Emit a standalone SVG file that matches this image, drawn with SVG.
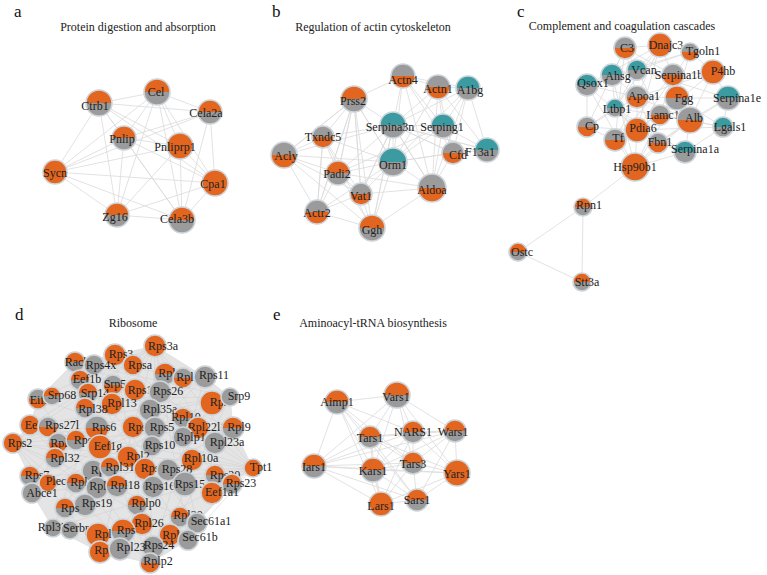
<svg xmlns="http://www.w3.org/2000/svg" width="767" height="575" viewBox="0 0 767 575">
<style>
.e{fill:none;stroke:#dadada;stroke-width:0.8}
.ed{fill:none;stroke:#cecece;stroke-width:0.5}
text{font-family:"Liberation Serif","Times New Roman",serif;font-size:12px;fill:#222;text-anchor:middle}
.p{font-size:17px;text-anchor:start;fill:#111}
</style>
<defs>
<path id="hT" d="M-1 0A1 1 0 0 1 1 0Z"/>
<path id="hB" d="M-1 0A1 1 0 0 0 1 0Z"/>
<circle id="ring" r="1" fill="none" stroke="#cdd4da" stroke-width="1.6" vector-effect="non-scaling-stroke"/>
<g id="OO"><circle r="1" fill="#E2661F"/><use href="#ring"/></g>
<g id="GG"><circle r="1" fill="#9B9B9B"/><use href="#ring"/></g>
<g id="OG"><use href="#hT" fill="#E2661F"/><use href="#hB" fill="#9B9B9B"/><use href="#ring"/></g>
<g id="GO"><use href="#hT" fill="#9B9B9B"/><use href="#hB" fill="#E2661F"/><use href="#ring"/></g>
<g id="TG"><use href="#hT" fill="#3B9BA1"/><use href="#hB" fill="#9B9B9B"/><use href="#ring"/></g>
</defs>
<rect width="767" height="575" fill="#fff"/>
<g id="titles">
<text class="p" x="14" y="17">a</text>
<text x="138" y="31">Protein digestion and absorption</text>
<text class="p" x="272" y="17">b</text>
<text x="373" y="31">Regulation of actin cytoskeleton</text>
<text class="p" x="517" y="17">c</text>
<text x="622" y="30">Complement and coagulation cascades</text>
<text class="p" x="15" y="320">d</text>
<text x="133" y="327">Ribosome</text>
<text class="p" x="273" y="320">e</text>
<text x="373" y="327">Aminoacyl-tRNA biosynthesis</text>
</g>
<g id="connectors">
<path class="e" d="M99 103L157 92L210 112L215 183L182 220L117 215L55 172L99 103M99 103L210 112M99 103L124 138L180 146L99 103M99 103L215 183M99 103L117 215M99 103L182 220M157 92L124 138L55 172L157 92M157 92L180 146M157 92L215 183M157 92L182 220M157 92L117 215M210 112L124 138M210 112L55 172M210 112L182 220M124 138L117 215M124 138L215 183M124 138L182 220M180 146L55 172M180 146L117 215M180 146L215 183M180 146L182 220M55 172L215 183M55 172L182 220M117 215L215 183"/>
<path class="e" d="M403 76L438 87L468 88L487 150L453 153L443 126L438 87M403 76L468 88M403 76L393 125L443 126L468 88L393 162L438 87L432 188L403 76M403 76L453 153M403 76L354 99M403 76L443 126M403 76L393 162M438 87L393 125M438 87L487 150M438 87L453 153M468 88L453 153M468 88L432 188M468 88L393 125M354 99L393 125L323 137L354 99L284 155L354 99L338 173L354 99L361 194L354 99L393 162L354 99L317 212L354 99L372 228M393 125L393 162L323 137L338 173L393 125L432 188L393 125L361 194L393 125L372 228L393 125L453 153L393 125L487 150L393 125L284 155M443 126L393 162L453 153L432 188L443 126L487 150M443 126L338 173M323 137L284 155L338 173L361 194L323 137L317 212L323 137L372 228M453 153L393 162M284 155L317 212L338 173M284 155L393 162L338 173M284 155L361 194M284 155L372 228M393 162L432 188L372 228L393 162L361 194M393 162L317 212M338 173L372 228M338 173L432 188M432 188L361 194M361 194L372 228L317 212L361 194"/>
<path class="e" d="M625 48L660 45L690 52L713 72L728 98L723 127L685 152L635 167L615 140L587 127L587 85L612 75L625 48M625 48L637 97L637 130L635 167M660 45L673 75L677 98L690 120L685 152M587 85L637 70L690 52L677 98L660 115L615 140M612 75L637 97L677 98L723 127M587 127L615 108L637 70L660 45M713 72L690 120L658 143L635 167L660 115L673 75M728 98L677 98L637 130L587 85M625 48L673 75L713 72M612 75L615 108L637 130L658 143L685 152M587 127L637 97L690 120L728 98M615 140L637 97L660 45M635 167L690 120L723 127M587 85L635 167M612 75L635 167M625 48L615 140M637 70L660 115L723 127M690 52L637 130L587 127M660 45L615 108L658 143M713 72L637 97L587 85M728 98L637 70L612 75M673 75L615 140M677 98L635 167M625 48L587 127M685 152L615 108M723 127L637 130M690 52L612 75M713 72L660 115M660 45L637 130M658 143L728 98M625 48L637 70L673 75M587 85L660 45M615 108L690 120M637 97L658 143M635 167L583 207L518 252L582 282L583 207"/>
<polygon points="155,346 205,377 230,397 233,428 253,468 232,484 197,523 188,540 150,563 100,552 53,528 32,493 30,476 13,443 30,425 38,399 75,362 115,355" fill="#e4e4e4" stroke="#dadada" stroke-width="0.6"/>
<path class="ed" d="M13 443L155 346M13 443L205 377M13 443L230 397M13 443L233 428M13 443L253 468M13 443L232 484M13 443L197 523M13 443L188 540M13 443L150 563M13 443L100 552M253 468L155 346M253 468L115 355M253 468L75 362M253 468L38 399M253 468L30 425M253 468L30 476M253 468L32 493M253 468L53 528M253 468L100 552M253 468L150 563M253 468L188 540M155 346L38 399M155 346L30 425M155 346L30 476M155 346L32 493M155 346L53 528M155 346L100 552M155 346L150 563M155 346L188 540M155 346L197 523M155 346L232 484M150 563L115 355M150 563L75 362M150 563L38 399M150 563L30 425M150 563L205 377M150 563L230 397M150 563L233 428M230 397L75 362M230 397L38 399M230 397L30 425M230 397L30 476M230 397L32 493M230 397L53 528M230 397L100 552M75 362L205 377M75 362L233 428M75 362L232 484M75 362L197 523M75 362L188 540M32 493L115 355M32 493L205 377M32 493L233 428M53 528L115 355M53 528L205 377M53 528L233 428"/>
<path class="e" d="M337 402L397 395L455 431L457 473L417 500L381 504L314 466L337 402M337 402L370 437L413 432L455 431M337 402L373 470L413 463L457 473M337 402L413 432M337 402L413 463M337 402L417 500M337 402L381 504M397 395L370 437L314 466L373 470L381 504M397 395L413 432L413 463L417 500L373 470L413 432M397 395L373 470M397 395L413 463M397 395L457 473M397 395L314 466M370 437L373 470M370 437L413 463M370 437L455 431M370 437L417 500M370 437L457 473M370 437L381 504M413 432L457 473M413 432L314 466M413 432L381 504M455 431L413 463M455 431L373 470M455 431L314 466M455 431L417 500M314 466L413 463M314 466L457 473M314 466L417 500M373 470L457 473M413 463L381 504M457 473L381 504"/>
</g>
<g id="panel-a">
<g id="a-Cel"><use href="#OG" transform="translate(157 92) scale(13)"/><text x="156" y="96">Cel</text></g>
<g id="a-Ctrb1"><use href="#OG" transform="translate(99 103) scale(13)"/><text x="95" y="110">Ctrb1</text></g>
<g id="a-Cela2a"><use href="#OG" transform="translate(210 112) scale(12)"/><text x="206" y="117">Cela2a</text></g>
<g id="a-Pnlip"><use href="#OG" transform="translate(124 138) scale(12)"/><text x="122" y="143">Pnlip</text></g>
<g id="a-Pnliprp1"><use href="#OO" transform="translate(180 146) scale(13)"/><text x="175" y="151">Pnliprp1</text></g>
<g id="a-Sycn"><use href="#OO" transform="translate(55 172) scale(12)"/><text x="55" y="177">Sycn</text></g>
<g id="a-Cpa1"><use href="#OO" transform="translate(215 183) scale(13)"/><text x="213" y="188">Cpa1</text></g>
<g id="a-Zg16"><use href="#OG" transform="translate(117 215) scale(12)"/><text x="115" y="221">Zg16</text></g>
<g id="a-Cela3b"><use href="#OG" transform="translate(182 220) scale(13)"/><text x="177" y="223">Cela3b</text></g>
</g>
<g id="panel-b">
<g id="b-Actn4"><use href="#GO" transform="translate(403 76) scale(12)"/><text x="403" y="84">Actn4</text></g>
<g id="b-Actn1"><use href="#GO" transform="translate(438 87) scale(12)"/><text x="438" y="93">Actn1</text></g>
<g id="b-A1bg"><use href="#TG" transform="translate(468 88) scale(12)"/><text x="470" y="94">A1bg</text></g>
<g id="b-Prss2"><use href="#OG" transform="translate(354 99) scale(13)"/><text x="353" y="105">Prss2</text></g>
<g id="b-Serpina3n"><use href="#TG" transform="translate(393 125) scale(13)"/><text x="390" y="131">Serpina3n</text></g>
<g id="b-Serping1"><use href="#TG" transform="translate(443 126) scale(12)"/><text x="442" y="131">Serping1</text></g>
<g id="b-Txndc5"><use href="#GO" transform="translate(323 137) scale(11)"/><text x="323" y="141">Txndc5</text></g>
<g id="b-Cfd"><use href="#GO" transform="translate(453 153) scale(11)"/><text x="458" y="159">Cfd</text></g>
<g id="b-F13a1"><use href="#TG" transform="translate(487 150) scale(12)"/><text x="480" y="156">F13a1</text></g>
<g id="b-Acly"><use href="#GO" transform="translate(284 155) scale(13)"/><text x="286" y="160">Acly</text></g>
<g id="b-Orm1"><use href="#TG" transform="translate(393 162) scale(14)"/><text x="393" y="169">Orm1</text></g>
<g id="b-Padi2"><use href="#OG" transform="translate(338 173) scale(12)"/><text x="337" y="178">Padi2</text></g>
<g id="b-Aldoa"><use href="#GO" transform="translate(432 188) scale(14)"/><text x="432" y="194">Aldoa</text></g>
<g id="b-Vat1"><use href="#GO" transform="translate(361 194) scale(11)"/><text x="361" y="200">Vat1</text></g>
<g id="b-Actr2"><use href="#GO" transform="translate(317 212) scale(12)"/><text x="317" y="217">Actr2</text></g>
<g id="b-Ggh"><use href="#OG" transform="translate(372 228) scale(13)"/><text x="372" y="234">Ggh</text></g>
</g>
<g id="panel-c">
<g id="c-C3"><use href="#GO" transform="translate(625 48) scale(11)"/><text x="627" y="52">C3</text></g>
<g id="c-Dnajc3"><use href="#OO" transform="translate(660 45) scale(12)"/><text x="666" y="49">Dnajc3</text></g>
<g id="c-Tgoln1"><use href="#GO" transform="translate(690 52) scale(9)"/><text x="703" y="55">Tgoln1</text></g>
<g id="c-Vcan"><use href="#TG" transform="translate(637 70) scale(10)"/><text x="644" y="74">Vcan</text></g>
<g id="c-Ahsg"><use href="#TG" transform="translate(612 75) scale(11)"/><text x="618" y="80">Ahsg</text></g>
<g id="c-Serpina1b"><use href="#GO" transform="translate(673 75) scale(11)"/><text x="679" y="79">Serpina1b</text></g>
<g id="c-P4hb"><use href="#OO" transform="translate(713 72) scale(12)"/><text x="723" y="75">P4hb</text></g>
<g id="c-Qsox1"><use href="#TG" transform="translate(587 85) scale(11)"/><text x="593" y="87">Qsox1</text></g>
<g id="c-Apoa1"><use href="#GO" transform="translate(637 97) scale(11)"/><text x="644" y="100">Apoa1</text></g>
<g id="c-Fgg"><use href="#OG" transform="translate(677 98) scale(12)"/><text x="684" y="102">Fgg</text></g>
<g id="c-Serpina1e"><use href="#TG" transform="translate(728 98) scale(12)"/><text x="737" y="102">Serpina1e</text></g>
<g id="c-Ltbp1"><use href="#TG" transform="translate(615 108) scale(9)"/><text x="617" y="113">Ltbp1</text></g>
<g id="c-Lamc1"><use href="#GO" transform="translate(660 115) scale(10)"/><text x="663" y="119">Lamc1</text></g>
<g id="c-Alb"><use href="#GO" transform="translate(690 120) scale(13)"/><text x="694" y="122">Alb</text></g>
<g id="c-Lgals1"><use href="#TG" transform="translate(723 127) scale(10)"/><text x="730" y="131">Lgals1</text></g>
<g id="c-Cp"><use href="#GO" transform="translate(587 127) scale(10)"/><text x="592" y="130">Cp</text></g>
<g id="c-Pdia6"><use href="#OO" transform="translate(637 130) scale(12)"/><text x="643" y="132">Pdia6</text></g>
<g id="c-Tf"><use href="#GO" transform="translate(615 140) scale(11)"/><text x="618" y="142">Tf</text></g>
<g id="c-Fbn1"><use href="#GO" transform="translate(658 143) scale(10)"/><text x="660" y="146">Fbn1</text></g>
<g id="c-Serpina1a"><use href="#TG" transform="translate(685 152) scale(11)"/><text x="695" y="153">Serpina1a</text></g>
<g id="c-Hsp90b1"><use href="#OO" transform="translate(635 167) scale(14)"/><text x="635" y="171">Hsp90b1</text></g>
<g id="c-Rpn1"><use href="#OG" transform="translate(583 207) scale(9)"/><text x="589" y="209">Rpn1</text></g>
<g id="c-Ostc"><use href="#OG" transform="translate(518 252) scale(9)"/><text x="522" y="256">Ostc</text></g>
<g id="c-Stt3a"><use href="#OG" transform="translate(582 282) scale(9)"/><text x="587" y="286">Stt3a</text></g>
</g>
<g id="panel-d">
<g id="d-Rps3a"><use href="#OO" transform="translate(155 346) scale(11)"/><text x="163" y="350">Rps3a</text></g>
<g id="d-Rps3"><use href="#OO" transform="translate(115 355) scale(11)"/><text x="121" y="358">Rps3</text></g>
<g id="d-Rack1"><use href="#OG" transform="translate(75 362) scale(10)"/><text x="80" y="366">Rack1</text></g>
<g id="d-Rps4x"><use href="#GG" transform="translate(94 365) scale(10)"/><text x="101" y="369">Rps4x</text></g>
<g id="d-Rpsa"><use href="#OO" transform="translate(133 365) scale(10)"/><text x="140" y="369">Rpsa</text></g>
<g id="d-Rpl8"><use href="#OG" transform="translate(165 374) scale(11)"/><text x="170" y="377">Rpl8</text></g>
<g id="d-Rpl1-a"><use href="#GO" transform="translate(183 378) scale(10)"/><text x="188" y="381">Rpl1</text></g>
<g id="d-Rps11"><use href="#GG" transform="translate(205 377) scale(11)"/><text x="214" y="379">Rps11</text></g>
<g id="d-Eef1b"><use href="#OG" transform="translate(80 380) scale(10)"/><text x="87" y="383">Eef1b</text></g>
<g id="d-Srp54"><use href="#GO" transform="translate(113 385) scale(10)"/><text x="118" y="388">Srp54</text></g>
<g id="d-Rps1-a"><use href="#OO" transform="translate(135 390) scale(11)"/><text x="140" y="394">Rps1</text></g>
<g id="d-Rps26"><use href="#GG" transform="translate(160 392) scale(11)"/><text x="168" y="395">Rps26</text></g>
<g id="d-Srp14"><use href="#OG" transform="translate(88 393) scale(10)"/><text x="95" y="397">Srp14</text></g>
<g id="d-Eif3f"><use href="#GO" transform="translate(38 399) scale(10)"/><text x="42" y="404">Eif3f</text></g>
<g id="d-Srp68"><use href="#OG" transform="translate(52 396) scale(9)"/><text x="62" y="399">Srp68</text></g>
<g id="d-Rps-b"><use href="#OO" transform="translate(212 403) scale(12)"/><text x="219" y="406">Rps</text></g>
<g id="d-Srp9"><use href="#GG" transform="translate(230 397) scale(9)"/><text x="239" y="400">Srp9</text></g>
<g id="d-Rpl13"><use href="#OO" transform="translate(112 404) scale(11)"/><text x="122" y="407">Rpl13</text></g>
<g id="d-Rpl38"><use href="#OG" transform="translate(85 408) scale(10)"/><text x="93" y="413">Rpl38</text></g>
<g id="d-Rpl35a"><use href="#GG" transform="translate(150 410) scale(11)"/><text x="160" y="413">Rpl35a</text></g>
<g id="d-Rpl10"><use href="#OG" transform="translate(183 418) scale(10)"/><text x="186" y="421">Rpl10</text></g>
<g id="d-Rpl22l1"><use href="#OO" transform="translate(198 428) scale(11)"/><text x="207" y="431">Rpl22l1</text></g>
<g id="d-Rpl9"><use href="#OG" transform="translate(233 428) scale(11)"/><text x="239" y="431">Rpl9</text></g>
<g id="d-Ee"><use href="#OO" transform="translate(30 425) scale(10)"/><text x="31" y="429">Ee</text></g>
<g id="d-Rps27l"><use href="#GO" transform="translate(48 427) scale(10)"/><text x="62" y="429">Rps27l</text></g>
<g id="d-Rps6"><use href="#GO" transform="translate(97 428) scale(12)"/><text x="104" y="431">Rps6</text></g>
<g id="d-Rps-c"><use href="#OO" transform="translate(133 427) scale(11)"/><text x="137" y="431">Rps</text></g>
<g id="d-Rps5"><use href="#GG" transform="translate(155 428) scale(11)"/><text x="162" y="431">Rps5</text></g>
<g id="d-Rplp1"><use href="#GG" transform="translate(183 437) scale(10)"/><text x="191" y="441">Rplp1</text></g>
<g id="d-Rps2"><use href="#OO" transform="translate(13 443) scale(10)"/><text x="20" y="447">Rps2</text></g>
<g id="d-Rpl1-b"><use href="#GO" transform="translate(58 443) scale(10)"/><text x="62" y="447">Rpl1</text></g>
<g id="d-Rps1-b"><use href="#OG" transform="translate(76 440) scale(10)"/><text x="86" y="444">Rps1</text></g>
<g id="d-Eef1g"><use href="#OO" transform="translate(100 447) scale(12)"/><text x="108" y="450">Eef1g</text></g>
<g id="d-Rps10"><use href="#GG" transform="translate(152 446) scale(10)"/><text x="160" y="449">Rps10</text></g>
<g id="d-Rpl23a"><use href="#GG" transform="translate(215 443) scale(11)"/><text x="227" y="446">Rpl23a</text></g>
<g id="d-Rpl32"><use href="#OG" transform="translate(55 458) scale(10)"/><text x="65" y="462">Rpl32</text></g>
<g id="d-Rpl2"><use href="#OO" transform="translate(128 457) scale(11)"/><text x="138" y="460">Rpl2</text></g>
<g id="d-Rpl10a"><use href="#OO" transform="translate(192 460) scale(11)"/><text x="201" y="462">Rpl10a</text></g>
<g id="d-Rps-d"><use href="#GG" transform="translate(93 471) scale(11)"/><text x="100" y="474">Rps</text></g>
<g id="d-Rpl31"><use href="#OG" transform="translate(110 467) scale(10)"/><text x="120" y="471">Rpl31</text></g>
<g id="d-Rps-e"><use href="#OO" transform="translate(145 469) scale(11)"/><text x="150" y="472">Rps</text></g>
<g id="d-Rps28"><use href="#GG" transform="translate(168 470) scale(11)"/><text x="177" y="473">Rps28</text></g>
<g id="d-Tpt1"><use href="#OO" transform="translate(253 468) scale(9)"/><text x="261" y="471">Tpt1</text></g>
<g id="d-Rps20"><use href="#OG" transform="translate(215 475) scale(10)"/><text x="225" y="479">Rps20</text></g>
<g id="d-Rps7"><use href="#OG" transform="translate(30 476) scale(10)"/><text x="37" y="479">Rps7</text></g>
<g id="d-Plec"><use href="#OO" transform="translate(48 483) scale(9)"/><text x="56" y="485">Plec</text></g>
<g id="d-Rps23"><use href="#OG" transform="translate(232 484) scale(10)"/><text x="241" y="487">Rps23</text></g>
<g id="d-Rpl1-c"><use href="#OG" transform="translate(76 483) scale(10)"/><text x="82" y="486">Rpl1</text></g>
<g id="d-Rpl1-d"><use href="#GG" transform="translate(97 488) scale(11)"/><text x="101" y="490">Rpl1</text></g>
<g id="d-Rpl18"><use href="#OG" transform="translate(117 486) scale(11)"/><text x="125" y="489">Rpl18</text></g>
<g id="d-Rps16"><use href="#GG" transform="translate(153 487) scale(11)"/><text x="160" y="490">Rps16</text></g>
<g id="d-Rps15"><use href="#GG" transform="translate(185 484) scale(12)"/><text x="190" y="488">Rps15</text></g>
<g id="d-Abce1"><use href="#GG" transform="translate(32 493) scale(10)"/><text x="42" y="497">Abce1</text></g>
<g id="d-Eef1a1"><use href="#OO" transform="translate(212 493) scale(11)"/><text x="222" y="496">Eef1a1</text></g>
<g id="d-Rps19"><use href="#GG" transform="translate(85 505) scale(11)"/><text x="97" y="507">Rps19</text></g>
<g id="d-Rps-f"><use href="#OG" transform="translate(65 508) scale(10)"/><text x="70" y="512">Rps</text></g>
<g id="d-Rplp0"><use href="#OG" transform="translate(137 505) scale(10)"/><text x="146" y="507">Rplp0</text></g>
<g id="d-Rpl30"><use href="#OG" transform="translate(180 517) scale(10)"/><text x="188" y="519">Rpl30</text></g>
<g id="d-Sec61a1"><use href="#GG" transform="translate(197 523) scale(10)"/><text x="211" y="525">Sec61a1</text></g>
<g id="d-Rpl26"><use href="#OO" transform="translate(142 524) scale(11)"/><text x="149" y="527">Rpl26</text></g>
<g id="d-Rpl37a"><use href="#GG" transform="translate(53 528) scale(9)"/><text x="55" y="531">Rpl37a</text></g>
<g id="d-Serbp1"><use href="#GG" transform="translate(70 530) scale(9)"/><text x="80" y="532">Serbp1</text></g>
<g id="d-Rps-g"><use href="#OG" transform="translate(123 531) scale(12)"/><text x="126" y="534">Rps</text></g>
<g id="d-Rpl-h"><use href="#OO" transform="translate(98 535) scale(12)"/><text x="103" y="538">Rpl</text></g>
<g id="d-Rpl12"><use href="#OO" transform="translate(170 535) scale(11)"/><text x="177" y="539">Rpl12</text></g>
<g id="d-Sec61b"><use href="#GG" transform="translate(188 540) scale(10)"/><text x="200" y="541">Sec61b</text></g>
<g id="d-Rps24"><use href="#GG" transform="translate(153 547) scale(11)"/><text x="159" y="549">Rps24</text></g>
<g id="d-Rpl1-e"><use href="#OO" transform="translate(100 552) scale(11)"/><text x="106" y="554">Rpl1</text></g>
<g id="d-Rpl23"><use href="#GG" transform="translate(120 549) scale(11)"/><text x="131" y="551">Rpl23</text></g>
<g id="d-Rplp2"><use href="#GO" transform="translate(150 563) scale(10)"/><text x="158" y="565">Rplp2</text></g>
</g>
<g id="panel-e">
<g id="e-Vars1"><use href="#OG" transform="translate(397 395) scale(13)"/><text x="396" y="401">Vars1</text></g>
<g id="e-Aimp1"><use href="#OG" transform="translate(337 402) scale(12)"/><text x="337" y="406">Aimp1</text></g>
<g id="e-Tars1"><use href="#OG" transform="translate(370 437) scale(11)"/><text x="370" y="442">Tars1</text></g>
<g id="e-NARS1"><use href="#OG" transform="translate(413 432) scale(11)"/><text x="413" y="436">NARS1</text></g>
<g id="e-Wars1"><use href="#OG" transform="translate(455 431) scale(11)"/><text x="453" y="436">Wars1</text></g>
<g id="e-Iars1"><use href="#OG" transform="translate(314 466) scale(12)"/><text x="314" y="471">Iars1</text></g>
<g id="e-Kars1"><use href="#OG" transform="translate(373 470) scale(12)"/><text x="373" y="475">Kars1</text></g>
<g id="e-Tars3"><use href="#OG" transform="translate(413 463) scale(11)"/><text x="413" y="468">Tars3</text></g>
<g id="e-Yars1"><use href="#OO" transform="translate(457 473) scale(13)"/><text x="457" y="478">Yars1</text></g>
<g id="e-Lars1"><use href="#OO" transform="translate(381 504) scale(12)"/><text x="381" y="510">Lars1</text></g>
<g id="e-Sars1"><use href="#OG" transform="translate(417 500) scale(11)"/><text x="417" y="504">Sars1</text></g>
</g>
</svg>
